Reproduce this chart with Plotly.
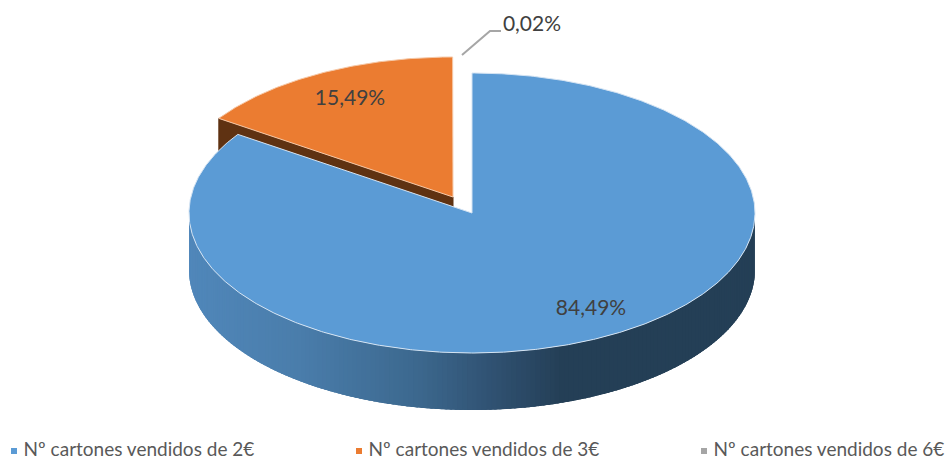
import math
import plotly.graph_objects as go

# Data
categories = ["Nº cartones vendidos de 2€", "Nº cartones vendidos de 3€", "Nº cartones vendidos de 6€"]
values = [84.49, 15.49, 0.02]
top_colors = ["#5B9BD5", "#EB7C31", "#A5A5A5"]
side_colors = ["#2F5070", "#5F3212", "#636363"]

# Projection of the tilted pie onto the page
CX, CY, RX, RY, DEPTH = 472, 213, 283, 140, 57
EXPLODE = [(0, 0), (-19, -16), (-10, -16)]
LABEL_POS = [(591, 310), (350, 100), (532, 26)]
LEADER_X = [462, 490, 501]
LEADER_Y = [55, 31, 31]
LEGEND_X = [14, 359, 704]
LEGEND_Y = 451
W, H = 949, 457


def point(theta_deg, dx=0, dy=0, depth=0):
    t = math.radians(theta_deg)
    return CX + dx + RX * math.sin(t), CY + dy - RY * math.cos(t) + depth


def arc(a, b, dx=0, dy=0, depth=0, step=0.5):
    n = max(2, int(abs(b - a) / step) + 1)
    return [point(a + (b - a) * i / (n - 1), dx, dy, depth) for i in range(n)]


def side_shade(x):
    stops = [(189, (0x50, 0x87, 0xBA)), (300, (0x4A, 0x7D, 0xAB)), (420, (0x3C, 0x68, 0x8E)),
             (500, (0x2F, 0x50, 0x70)), (565, (0x24, 0x3F, 0x56)), (760, (0x24, 0x3F, 0x56))]
    for (x0, c0), (x1, c1) in zip(stops, stops[1:]):
        if x <= x1:
            f = max(0, (x - x0) / (x1 - x0))
            return "rgb(%d,%d,%d)" % tuple(round(p + (q - p) * f) for p, q in zip(c0, c1))
    return "rgb(36,63,86)"


def poly(pts, fill, line=None, width=1):
    return go.Scatter(x=[p[0] for p in pts] + [pts[0][0]], y=[p[1] for p in pts] + [pts[0][1]],
                      mode="lines", fill="toself", fillcolor=fill,
                      line=dict(color=line or fill, width=width),
                      hoverinfo="skip", showlegend=False)


fig = go.Figure()
total = sum(values)
spans = []
start = 0
for v in values:
    end = start + v / total * 360
    spans.append((start, end))
    start = end

# Grey sliver (practically invisible, as in the original)
a, b = spans[2]
dx, dy = EXPLODE[2]
fig.add_trace(poly([(CX + dx, CY + dy)] + arc(a, b, dx, dy), top_colors[2], None, 0))

# Orange slice: its wall is partly hidden by the blue slice
a, b = spans[1]
dx, dy = EXPLODE[1]
apex = (CX + dx, CY + dy)
fig.add_trace(poly([apex, point(a, dx, dy), point(a, dx, dy, DEPTH), (apex[0], apex[1] + DEPTH)], side_colors[1]))
fig.add_trace(poly([apex] + arc(a, b, dx, dy), top_colors[1], "#F6C9A8", 1))

# Blue wall: overlapping strips so that the shade runs smoothly across it
a, b = spans[0]
steps = 180
lo = 90
hi = min(270, b)
delta = (hi - lo) / steps
for k in range(steps):
    t0 = lo + delta * k
    t1 = min(hi, t0 + 2.5 * delta)
    upper = arc(t0, t1, step=0.25)
    lower = arc(t1, t0, depth=DEPTH, step=0.25)
    fig.add_trace(poly(upper + lower, side_shade(upper[0][0]), None, 0))

# Blue top, with pale rim
fig.add_trace(poly([(CX, CY)] + arc(a, b), top_colors[0], "#D5E4F3", 1))

# Leader line
fig.add_trace(go.Scatter(x=LEADER_X, y=LEADER_Y, mode="lines",
                         line=dict(color="#A6A6A6", width=2), hoverinfo="skip", showlegend=False))

# Data labels
fig.add_trace(go.Scatter(x=[p[0] for p in LABEL_POS], y=[p[1] for p in LABEL_POS], mode="text",
                         text=[f"{v:.2f}".replace(".", ",") + "%" for v in values],
                         textposition="middle center",
                         textfont=dict(family="Lato", size=21, color="#404040"),
                         hoverinfo="skip", showlegend=False))

# Legend row
for name, color, lx in zip(categories, top_colors, LEGEND_X):
    fig.add_trace(go.Scatter(x=[lx], y=[LEGEND_Y], mode="markers+text", text=[" " + name],
                             textposition="middle right",
                             textfont=dict(family="Lato", size=19, color="#595959"),
                             marker=dict(symbol="square", size=6, color=color),
                             hoverinfo="skip", showlegend=False, cliponaxis=False))

fig.update_layout(
    width=W, height=H, margin=dict(l=0, r=0, t=0, b=0),
    paper_bgcolor="white", plot_bgcolor="white",
    xaxis=dict(range=[0, W], visible=False, fixedrange=True),
    yaxis=dict(range=[H, 0], visible=False, fixedrange=True),
    showlegend=False,
)
fig.write_html("out.html", config={"displayModeBar": False},
               post_script="document.body.style.margin='0';document.body.style.overflow='hidden';")
